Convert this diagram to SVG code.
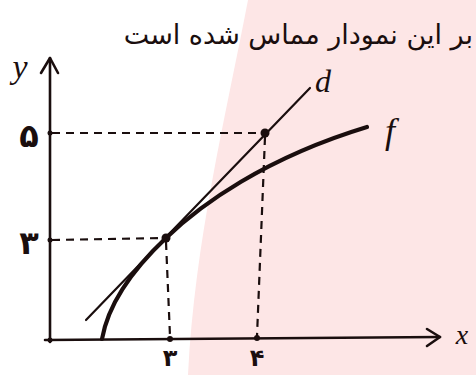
<svg xmlns="http://www.w3.org/2000/svg" width="476" height="375" viewBox="0 0 476 375">
<style>
.ink{stroke:#1a0e0e;fill:none;stroke-linecap:round;stroke-linejoin:round}
.dash{stroke:#1a0e0e;stroke-width:2.2;fill:none;stroke-dasharray:8 6}
.dot{fill:#1a0e0e}
.lbl{font-family:"DejaVu Sans",sans-serif;fill:#1a0e0e;font-weight:bold}
.let{font-family:"Liberation Serif",serif;font-style:italic;fill:#1a0e0e}
</style>
<rect width="476" height="375" fill="#ffffff"/>
<path d="M248,0 C225,120 195,240 188,375 L476,375 L476,0 Z" fill="#fde6e6"/>
<g id="title">
<text x="473" y="44" font-family="DejaVu Sans, sans-serif" fill="#1a0e0e" font-size="27" direction="rtl" text-anchor="start">بر این نمودار مماس شده است</text>
</g>
<g id="axes">
<path class="ink" stroke-width="2.6" d="M50,342 L50,58"/>
<path class="ink" stroke-width="2.6" d="M41,73 L50,58 L58,73"/>
<path class="ink" stroke-width="2.6" d="M45,340 L440,337"/>
<path class="ink" stroke-width="2.6" d="M427,329 L440,337 L427,346"/>
<text class="let" x="462" y="344" font-size="28" text-anchor="middle">x</text>
<text class="let" x="20" y="78" font-size="34" text-anchor="middle">y</text>
</g>
<g id="guides">
<path class="dash" d="M52,133 L262,133"/>
<path class="dash" d="M52,240 L164,238"/>
<path class="dash" d="M166,242 L170,336"/>
<path class="dash" d="M265,137 L257,336"/>
</g>
<g id="connectors">
<path id="d" class="ink" stroke-width="2.2" d="M86,320 L310,88"/>
<path id="f" class="ink" stroke-width="4.2" d="M102,339 C108,305 130,272 166,238 C200,205 265,158 367,127"/>
</g>
<g id="points">
<circle class="dot" cx="166" cy="238" r="4.5"/>
<circle class="dot" cx="265" cy="133" r="4.5"/>
<circle class="dot" cx="170" cy="339" r="3"/>
<circle class="dot" cx="257" cy="338" r="3"/>
<circle class="dot" cx="50" cy="133" r="2.5"/>
<circle class="dot" cx="50" cy="240" r="2.5"/>
<circle class="dot" cx="50" cy="340" r="2.5"/>
</g>
<g id="labels">
<text class="lbl" x="29" y="147" font-size="32" text-anchor="middle">۵</text>
<text class="lbl" x="29" y="254" font-size="32" text-anchor="middle">۳</text>
<text class="lbl" x="170" y="366" font-size="24" text-anchor="middle">۳</text>
<text class="lbl" x="257" y="366" font-size="24" text-anchor="middle">۴</text>
<text class="let" x="323" y="92" font-size="32" text-anchor="middle">d</text>
<text class="let" x="390" y="143" font-size="36" text-anchor="middle">f</text>
</g>
</svg>
